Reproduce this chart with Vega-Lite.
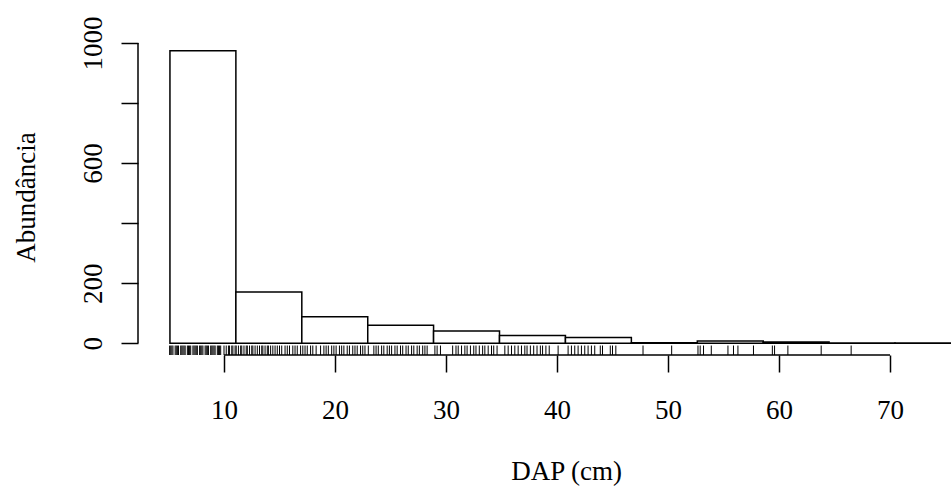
{
  "$schema": "https://vega.github.io/schema/vega-lite/v6.json",
  "width": 813,
  "height": 316,
  "autosize": {"type": "none"},
  "padding": {"left": 138, "top": 39, "right": 0, "bottom": 132},
  "background": "white",
  "resolve": {"axis": {"x": "independent", "y": "independent"}},
  "config": {
    "view": {"stroke": null},
    "axis": {
      "grid": false,
      "domain": false,
      "labelFont": "Liberation Serif",
      "labelFontSize": 27,
      "labelColor": "#000",
      "titleFont": "Liberation Serif",
      "titleFontSize": 27,
      "titleFontWeight": "normal",
      "titleColor": "#000",
      "tickColor": "#000",
      "tickWidth": 1.5,
      "tickSize": 17
    }
  },
  "datasets": {
    "bins": [
      {"start": 5.13, "end": 11.07, "count": 974},
      {"start": 11.07, "end": 17.01, "count": 171},
      {"start": 17.01, "end": 22.95, "count": 88},
      {"start": 22.95, "end": 28.88, "count": 60},
      {"start": 28.88, "end": 34.82, "count": 41},
      {"start": 34.82, "end": 40.76, "count": 26},
      {"start": 40.76, "end": 46.7, "count": 19},
      {"start": 46.7, "end": 52.64, "count": 2},
      {"start": 52.64, "end": 58.58, "count": 8},
      {"start": 58.58, "end": 64.51, "count": 4},
      {"start": 64.51, "end": 70.45, "count": 1},
      {"start": 70.45, "end": 76.39, "count": 1}
    ],
    "rug": [
      {"dap": 5.1}, {"dap": 5.2}, {"dap": 5.3}, {"dap": 5.4}, {"dap": 5.6}, {"dap": 5.7}, {"dap": 5.8}, {"dap": 5.9},
      {"dap": 6.1}, {"dap": 6.2}, {"dap": 6.3}, {"dap": 6.4}, {"dap": 6.5}, {"dap": 6.7}, {"dap": 6.8}, {"dap": 6.9},
      {"dap": 7.0}, {"dap": 7.2}, {"dap": 7.3}, {"dap": 7.4}, {"dap": 7.5}, {"dap": 7.6}, {"dap": 7.8}, {"dap": 7.9},
      {"dap": 8.0}, {"dap": 8.1}, {"dap": 8.3}, {"dap": 8.4}, {"dap": 8.5}, {"dap": 8.6}, {"dap": 8.8}, {"dap": 8.9},
      {"dap": 9.0}, {"dap": 9.1}, {"dap": 9.2}, {"dap": 9.4}, {"dap": 9.5}, {"dap": 9.6}, {"dap": 9.7}, {"dap": 10.0},
      {"dap": 10.2}, {"dap": 10.4}, {"dap": 10.5}, {"dap": 10.7}, {"dap": 10.8}, {"dap": 11.0}, {"dap": 11.1}, {"dap": 11.3},
      {"dap": 11.5}, {"dap": 11.6}, {"dap": 11.8}, {"dap": 12.0}, {"dap": 12.1}, {"dap": 12.3}, {"dap": 12.5}, {"dap": 12.6},
      {"dap": 12.8}, {"dap": 13.0}, {"dap": 13.2}, {"dap": 13.4}, {"dap": 13.5}, {"dap": 13.7}, {"dap": 13.9}, {"dap": 14.0},
      {"dap": 14.2}, {"dap": 14.4}, {"dap": 14.6}, {"dap": 14.8}, {"dap": 15.0}, {"dap": 15.2}, {"dap": 15.5}, {"dap": 15.7},
      {"dap": 15.9}, {"dap": 16.2}, {"dap": 16.4}, {"dap": 16.6}, {"dap": 16.9}, {"dap": 17.1}, {"dap": 17.3}, {"dap": 17.5},
      {"dap": 17.8}, {"dap": 18.0}, {"dap": 18.3}, {"dap": 18.7}, {"dap": 19.0}, {"dap": 19.2}, {"dap": 19.4}, {"dap": 19.7},
      {"dap": 19.9}, {"dap": 20.1}, {"dap": 20.4}, {"dap": 20.6}, {"dap": 20.8}, {"dap": 21.1}, {"dap": 21.3}, {"dap": 21.6},
      {"dap": 21.8}, {"dap": 22.0}, {"dap": 22.3}, {"dap": 22.5}, {"dap": 22.7}, {"dap": 23.0}, {"dap": 23.5}, {"dap": 23.7},
      {"dap": 23.9}, {"dap": 24.2}, {"dap": 24.4}, {"dap": 24.7}, {"dap": 24.9}, {"dap": 25.1}, {"dap": 25.4}, {"dap": 25.6},
      {"dap": 25.9}, {"dap": 26.1}, {"dap": 26.4}, {"dap": 26.6}, {"dap": 26.9}, {"dap": 27.1}, {"dap": 27.4}, {"dap": 27.6},
      {"dap": 27.9}, {"dap": 28.1}, {"dap": 28.3}, {"dap": 29.0}, {"dap": 29.2}, {"dap": 29.5}, {"dap": 30.6}, {"dap": 30.9},
      {"dap": 31.1}, {"dap": 31.4}, {"dap": 31.7}, {"dap": 31.9}, {"dap": 32.2}, {"dap": 32.5}, {"dap": 32.7}, {"dap": 33.0},
      {"dap": 33.3}, {"dap": 33.5}, {"dap": 33.8}, {"dap": 34.1}, {"dap": 34.3}, {"dap": 34.6}, {"dap": 35.3}, {"dap": 35.6},
      {"dap": 35.9}, {"dap": 36.2}, {"dap": 36.5}, {"dap": 36.8}, {"dap": 37.1}, {"dap": 37.3}, {"dap": 37.6}, {"dap": 37.9},
      {"dap": 38.2}, {"dap": 38.5}, {"dap": 38.7}, {"dap": 39.0}, {"dap": 39.3}, {"dap": 40.1}, {"dap": 41.0}, {"dap": 41.3},
      {"dap": 41.6}, {"dap": 41.9}, {"dap": 42.2}, {"dap": 42.5}, {"dap": 42.8}, {"dap": 43.1}, {"dap": 43.4}, {"dap": 43.9},
      {"dap": 44.1}, {"dap": 44.8}, {"dap": 45.0}, {"dap": 45.3}, {"dap": 47.75}, {"dap": 50.33}, {"dap": 52.7}, {"dap": 52.9},
      {"dap": 53.2}, {"dap": 53.9}, {"dap": 55.4}, {"dap": 55.9}, {"dap": 56.3}, {"dap": 57.7}, {"dap": 59.4}, {"dap": 59.6},
      {"dap": 60.8}, {"dap": 63.8}, {"dap": 66.5}, {"dap": 76.0}
    ],
    "axes": [{"axis": "frame"}]
  },
  "layer": [
    {
      "data": {"name": "bins"},
      "mark": {"type": "rect", "fill": "white", "stroke": "#000", "strokeWidth": 1.5, "clip": true},
      "encoding": {
        "x": {
          "field": "start", "type": "quantitative",
          "scale": {"domain": [2.252, 75.495], "nice": false, "zero": false},
          "axis": {"values": [10, 20, 30, 40, 50, 60, 70], "format": "d", "labelPadding": 46, "labelBaseline": "alphabetic",
                   "title": "DAP (cm)", "titleX": 428, "titleY": 124, "titleBaseline": "alphabetic", "titleAlign": "center", "titleAnchor": null}
        },
        "x2": {"field": "end"},
        "y": {
          "field": "count", "type": "quantitative",
          "scale": {"domain": [-39, 1013], "nice": false, "zero": false},
          "axis": {"values": [0, 200, 400, 600, 800, 1000], "format": "d",
                   "labelExpr": "datum.value == 400 || datum.value == 800 ? '' : datum.label",
                   "labelAngle": -90, "labelAlign": "center", "labelBaseline": "alphabetic", "labelPadding": 20,
                   "title": "Abundância", "titleAngle": -90, "titleX": -104, "titleY": 158,
                   "titleAlign": "center", "titleBaseline": "alphabetic"}
        },
        "y2": {"datum": 0}
      }
    },
    {
      "data": {"name": "rug"},
      "mark": {"type": "rule", "stroke": "#000", "strokeWidth": 1, "clip": true},
      "encoding": {
        "x": {"field": "dap", "type": "quantitative", "axis": null},
        "y": {"datum": -39, "type": "quantitative", "axis": null},
        "y2": {"datum": -7.5}
      }
    },
    {
      "data": {"name": "axes"},
      "mark": {"type": "rule", "stroke": "#000", "strokeWidth": 1.5},
      "encoding": {
        "x": {"datum": 10, "type": "quantitative", "axis": null},
        "x2": {"datum": 70},
        "y": {"datum": -39, "type": "quantitative", "axis": null}
      }
    },
    {
      "data": {"name": "axes"},
      "mark": {"type": "rule", "stroke": "#000", "strokeWidth": 1.5},
      "encoding": {
        "x": {"datum": 2.252, "type": "quantitative", "axis": null},
        "y": {"datum": 0, "type": "quantitative", "axis": null},
        "y2": {"datum": 1000}
      }
    }
  ]
}
